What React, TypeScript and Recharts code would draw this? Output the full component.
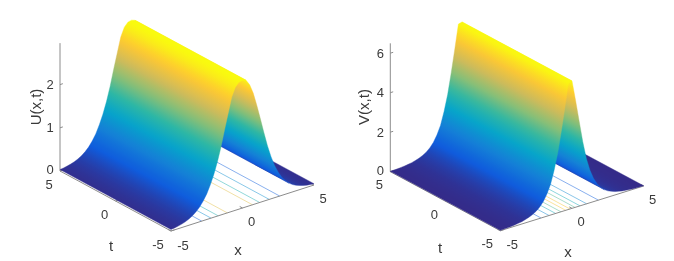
import React from 'react';
import { ScatterChart, Scatter, XAxis, YAxis, ReferenceDot, Label } from 'recharts';

const xGrid = [-5,-4.75,-4.5,-4.25,-4,-3.75,-3.5,-3.25,-3,-2.75,-2.5,-2.25,-2,-1.75,-1.5,-1.25,-1,-0.75,-0.5,-0.25,0,0.25,0.5,0.75,1,1.25,1.5,1.75,2,2.25,2.5,2.75,3,3.25,3.5,3.75,4,4.25,4.5,4.75,5];
const uValues = [0.033,0.044,0.06,0.08,0.107,0.144,0.193,0.257,0.341,0.454,0.593,0.776,0.997,1.26,1.58,1.95,2.3,2.65,2.85,2.94,2.96,2.93,2.8,2.58,2.27,1.93,1.58,1.25,0.97,0.74,0.56,0.42,0.31,0.23,0.17,0.125,0.095,0.07,0.05,0.04,0.03];
const vValues = [0.017,0.024,0.033,0.047,0.065,0.09,0.12,0.17,0.23,0.31,0.42,0.58,0.8,1.12,1.55,2.2,3.0,4.05,5.2,6.4,6.45,5.4,4.3,3.2,2.3,1.65,1.18,0.85,0.6,0.44,0.32,0.24,0.17,0.13,0.09,0.07,0.05,0.035,0.025,0.018,0.012];
const uContourX = [-2.85,-2.2,-1.7,-1.06,0.7,1.2,1.87,2.6];
const uContourLevel = [0.13,0.3,0.45,0.8,0.8,0.45,0.3,0.13];
const vContourX = [-2.16,-1.6,-1.14,-0.77,-0.44,-0.14,0.21,0.56,1.02,1.84];
const vContourLevel = [0.13,0.28,0.42,0.55,0.85,0.85,0.55,0.42,0.28,0.13];
const uTicks = [0,1,2];
const vTicks = [0,2,4,6];
const xyTicks = [-5,0,5];

const PARULA = ['#352a87','#0f5cdd','#1481d6','#06a4ca','#2eb7a4','#87bf77','#d1bb59','#fec832','#f9fb0e'];
const hex = (s: string) => [1,3,5].map(i => parseInt(s.slice(i,i+2),16));
function parula(f: number) {
  const v = Math.max(0, Math.min(1, f)) * 8;
  const i = Math.min(7, Math.floor(v));
  const a = hex(PARULA[i]), b = hex(PARULA[i+1]), k = v - i;
  const c = a.map((q, n) => Math.round(q + (b[n]-q)*k));
  return `rgb(${c[0]},${c[1]},${c[2]})`;
}

type View = {
  ox:number; oy:number; ax:number; ay:number; bx:number; by:number; zs:number; zTop:number;
  values:number[]; peak:number; zTicks:number[]; zLabel:string; labelPos:[number,number]; tPos:[number,number]; xPos:[number,number];
  contourX:number[]; contourLevel:number[]; id:string;
};

const leftView: View = { ox:60, oy:171, ax:143, ay:-46, bx:111, by:60, zs:43.2, zTop:2.96, values:uValues, peak:2.96, zTicks:uTicks, zLabel:'U(x,t)', labelPos:[36,107], tPos:[111,246], xPos:[238,250], contourX:uContourX, contourLevel:uContourLevel, id:'u' };
const rightView: View = { ox:53.3, oy:171.7, ax:143.4, ay:-44.7, bx:110, by:59, zs:19.75, zTop:6.5, values:vValues, peak:6.5, zTicks:vTicks, zLabel:'V(x,t)', labelPos:[27,107], tPos:[103,248], xPos:[231,252], contourX:vContourX, contourLevel:vContourLevel, id:'v' };

const AXIS = '#8c8c8c';
const TEXT = '#3a3a3a';
const FONT = '"Liberation Sans", Arial, sans-serif';
const noPoint = () => null;

function Panel({ view }: { view: View }) {
  const P = (x:number, t:number, z:number) => {
    const s = (x+5)/10, r = (5-t)/10;
    return { px: view.ox + s*view.ax + r*view.bx, py: view.oy + s*view.ay + r*view.by - z*view.zs };
  };
  const len = Math.hypot(view.bx, view.by);
  const nx = -view.by/len, ny = view.bx/len;
  const nc = (p:{px:number;py:number}) => p.px*nx + p.py*ny;
  // Split the sweep of the profile into runs that are monotonic across the t direction.
  const front = xGrid.map((x,i) => P(x,-5,view.values[i]));
  const runs: [number,number][] = [];
  let start = 0;
  for (let i = 1; i < xGrid.length - 1; i++) {
    const a = nc(front[i]) - nc(front[i-1]), b = nc(front[i+1]) - nc(front[i]);
    if (a * b < 0) { runs.push([start, i]); start = i; }
  }
  runs.push([start, xGrid.length - 1]);
  runs.reverse();

  const stripLine = (a:number, b:number, key:string) => (props:any) => {
    const pts = props.points.map((p:any) => ({ x: p.x ?? p.cx, y: p.y ?? p.cy }));
    const n = b - a + 1;
    const frontPts = pts.slice(0, n);
    const c = frontPts.map((p:any) => p.x*nx + p.y*ny);
    const c0 = c[0], c1 = c[n-1], span = (c1 - c0) || 1;
    const id = `${view.id}-${key}`;
    const stops: { o:number; col:string }[] = [];
    for (let i = 0; i < n - 1; i++) {
      const z0 = view.values[a+i], z1 = view.values[a+i+1];
      for (let k = 0; k < 3; k++) {
        const f = k/3;
        stops.push({ o: (c[i] + (c[i+1]-c[i])*f - c0)/span, col: parula((z0 + (z1-z0)*f)/view.peak) });
      }
    }
    stops.push({ o: 1, col: parula(view.values[b]/view.peak) });
    const path = 'M' + pts.map((p:any) => `${p.x},${p.y}`).join('L') + 'Z';
    const gx0 = frontPts[0].x, gy0 = frontPts[0].y;
    return (
      <g>
        <defs>
          <linearGradient id={id} gradientUnits="userSpaceOnUse" x1={gx0} y1={gy0} x2={gx0+nx*span} y2={gy0+ny*span}>
            {stops.map((s,i) => <stop key={i} offset={s.o} stopColor={s.col} />)}
          </linearGradient>
        </defs>
        <path d={path} fill={`url(#${id})`} stroke={`url(#${id})`} strokeWidth={0.4} />
      </g>
    );
  };
  const seg = (a:{px:number;py:number}, b:{px:number;py:number}, key:string, stroke:string, w:number, op=1) => (
    <Scatter key={key} data={[a,b]} shape={noPoint} isAnimationActive={false} legendType="none"
      line={{ stroke, strokeWidth: w, strokeOpacity: op }} />
  );
  const text = (p:{px:number;py:number}, value:string, key:string, size=13, angle=0) => (
    <ReferenceDot key={key} x={p.px} y={p.py} r={0} stroke="none" fill="none" ifOverflow="visible">
      <Label value={value} position="center" angle={angle} fill={TEXT} fontSize={size} fontFamily={FONT} />
    </ReferenceDot>
  );
  const off = (p:{px:number;py:number}, dx:number, dy:number) => ({ px:p.px+dx, py:p.py+dy });
  return (
    <ScatterChart width={337} height={261} margin={{top:0,right:0,bottom:0,left:0}}>
      <XAxis type="number" dataKey="px" domain={[0,337]} hide />
      <YAxis type="number" dataKey="py" domain={[0,261]} reversed hide />
      {view.contourX.map((x,i) => seg(P(x,-5,0), P(x,5,0), `c${i}`, parula(view.contourLevel[i]), 0.7, 0.7))}
      {seg(P(-5,5,0), P(-5,-5,0), 'ta', AXIS, 1)}
      {seg(P(-5,-5,0), P(5,-5,0), 'xa', AXIS, 1)}
      {seg(P(-5,5,0), P(-5,5,view.zTop), 'za', AXIS, 1)}
      {xyTicks.map(v => seg(P(v,-5,0), P(v,-4.75,0), `xt${v}`, AXIS, 1))}
      {xyTicks.map(v => seg(P(-5,v,0), P(-4.75,v,0), `tt${v}`, AXIS, 1))}
      {view.zTicks.map(v => seg(P(-5,5,v), P(-4.8,5,v), `zt${v}`, AXIS, 1))}
      {runs.map(([a,b]) => {
        const fr = xGrid.slice(a,b+1).map((x,k) => P(x,-5,view.values[a+k]));
        const bk = xGrid.slice(a,b+1).map((x,k) => P(x,5,view.values[a+k])).reverse();
        return (
          <Scatter key={`s${a}`} isAnimationActive={false} shape={noPoint} legendType="none"
            data={[...fr, ...bk]} line={stripLine(a,b,String(a))} />
        );
      })}
      {view.zTicks.map(v => text(off(P(-5,5,v),-10,v===0?-1.5:0), String(v), `zl${v}`))}
      {xyTicks.map(v => text(off(P(-5,v,0), v===-5?-13:-11, 13), String(v), `tl${v}`))}
      {xyTicks.map(v => text(off(P(v,-5,0), v===-5?12:9, v===-5?14:13), String(v), `xl${v}`))}
      {text({px:view.tPos[0],py:view.tPos[1]}, 't', 'tlab', 15)}
      {text({px:view.xPos[0],py:view.xPos[1]}, 'x', 'xlab', 15)}
      {text({px:view.labelPos[0],py:view.labelPos[1]}, view.zLabel, 'zlab', 15, -90)}
    </ScatterChart>
  );
}

export default function App() {
  return (
    <div style={{ position:'absolute', left:0, top:0, width:674, height:261, display:'flex', background:'#fff', filter:'blur(0.45px)' }}>
      <Panel view={leftView} />
      <Panel view={rightView} />
    </div>
  );
}
